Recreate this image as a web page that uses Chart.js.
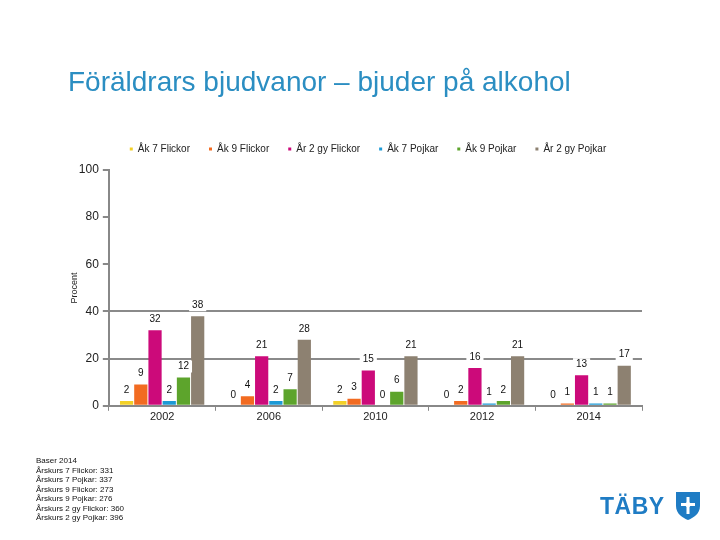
<!DOCTYPE html>
<html>
<head>
<meta charset="utf-8">
<script src="https://cdn.jsdelivr.net/npm/chart.js@4/dist/chart.umd.min.js"></script>
<style>
  body { margin: 0; background: #fff; }
  #wrap { position: relative; width: 720px; height: 540px; font-family: "Liberation Sans", Arial, sans-serif; }
  #titel { position: absolute; left: 68px; top: 66px; font-size: 28px; color: #2b8ec2; white-space: nowrap; }
  #bas { position: absolute; left: 36px; top: 456px; font-size: 8px; line-height: 9.5px; color: #111; }
  #logo { position: absolute; left: 600px; top: 491px; display: flex; align-items: center; }
  #logo span { font-size: 23px; font-weight: bold; color: #1f7cc4; letter-spacing: 0.5px; }
  canvas { position: absolute; left: 0; top: 0; }
</style>
</head>
<body>
<div id="wrap">
  <canvas id="grafico" width="720" height="540"></canvas>
  <div id="titel">Föräldrars bjudvanor – bjuder på alkohol</div>
  <div id="bas"></div>
  <div id="logo"><span>TÄBY</span>
    <svg width="26" height="30" viewBox="0 0 26 30" style="margin-left:10px">
      <path d="M1 1 H25 V15 C25 23 18 27 13 29 C8 27 1 23 1 15 Z" fill="#1f7cc4"/>
      <path d="M11.5 6 H14.5 V12 H20 V15 H14.5 V23 H11.5 V15 H6 V12 H11.5 Z" fill="#fff"/>
      <circle cx="13" cy="13.5" r="2.6" fill="#fff"/>
    </svg>
  </div>
</div>
<script>
// Data
const ar = ["2002", "2006", "2010", "2012", "2014"];
const serier = ["Åk 7 Flickor", "Åk 9 Flickor", "År 2 gy Flickor", "Åk 7 Pojkar", "Åk 9 Pojkar", "År 2 gy Pojkar"];
const ak7Flickor = [2, 0, 2, 0, 0];
const ak9Flickor = [9, 4, 3, 2, 1];
const ar2Flickor = [32, 21, 15, 16, 13];
const ak7Pojkar = [2, 2, 0, 1, 1];
const ak9Pojkar = [12, 7, 6, 2, 1];
const ar2Pojkar = [38, 28, 21, 21, 17];
const farger = ["#f2d027", "#f26b21", "#cc0a7a", "#1c9ad6", "#5da42c", "#8d8171"];
const baser = ["Baser 2014", "Årskurs 7 Flickor: 331", "Årskurs 7 Pojkar: 337", "Årskurs 9 Flickor: 273",
  "Årskurs 9 Pojkar: 276", "Årskurs 2 gy Flickor: 360", "Årskurs 2 gy Pojkar: 396"];

document.getElementById("bas").innerHTML = baser.join("<br>");

const varden = [ak7Flickor, ak9Flickor, ar2Flickor, ak7Pojkar, ak9Pojkar, ar2Pojkar];

// etiketter ovanför staplarna, med vit bakgrund
const etiketter = {
  id: "etiketter",
  afterDatasetsDraw(chart) {
    const ctx = chart.ctx;
    ctx.save();
    ctx.font = "10px 'Liberation Sans', Arial";
    ctx.textAlign = "center";
    ctx.textBaseline = "middle";
    chart.data.datasets.forEach((ds, i) => {
      chart.getDatasetMeta(i).data.forEach((bar, j) => {
        const txt = String(ds.data[j]);
        const y = bar.y - 11;
        const w = ctx.measureText(txt).width + 6;
        ctx.fillStyle = "#fff";
        ctx.fillRect(bar.x - w / 2, y - 6, w, 12);
        ctx.fillStyle = "#111";
        ctx.fillText(txt, bar.x, y);
      });
    });
    ctx.restore();
  }
};

// flytta förklaringen lite åt höger och uppåt
const flyttaLegend = {
  id: "flyttaLegend",
  afterUpdate(chart) {
    chart.legend.left += 19;
    chart.legend.right += 19;
    chart.legend.top -= 6;
    chart.legend.bottom -= 6;
  }
};

new Chart(document.getElementById("grafico").getContext("2d"), {
  type: "bar",
  data: {
    labels: ar,
    datasets: serier.map((namn, i) => ({
      label: namn,
      data: varden[i],
      backgroundColor: farger[i],
      borderWidth: 0
    }))
  },
  options: {
    responsive: false,
    animation: false,
    layout: { padding: { top: 131, left: 56, right: 78, bottom: 116 } },
    datasets: { bar: { categoryPercentage: 0.8, barPercentage: 0.93 } },
    plugins: {
      legend: {
        labels: {
          boxWidth: 3, boxHeight: 3, padding: 19, color: "#222",
          font: { family: "'Liberation Sans', Arial", size: 10 }
        }
      },
      tooltip: { enabled: false }
    },
    scales: {
      x: {
        grid: { drawOnChartArea: false, offset: true, tickLength: 5, color: "#888", lineWidth: 1 },
        border: { color: "#888", width: 2 },
        ticks: { color: "#222", font: { family: "'Liberation Sans', Arial", size: 11 }, padding: 0 }
      },
      y: {
        min: 0, max: 100,
        ticks: { stepSize: 20, color: "#222", font: { family: "'Liberation Sans', Arial", size: 12 }, padding: 4 },
        grid: {
          color: c => (c.tick && (c.tick.value === 20 || c.tick.value === 40)) ? "#8a8a8a" : "rgba(0,0,0,0)",
          lineWidth: 2,
          tickColor: "#888",
          tickLength: 6
        },
        border: { color: "#888", width: 2 },
        title: { display: true, text: "Procent", color: "#222", font: { family: "'Liberation Sans', Arial", size: 9 }, padding: { top: 13, bottom: -5 } }
      }
    }
  },
  plugins: [etiketter, flyttaLegend]
});
</script>
</body>
</html>
